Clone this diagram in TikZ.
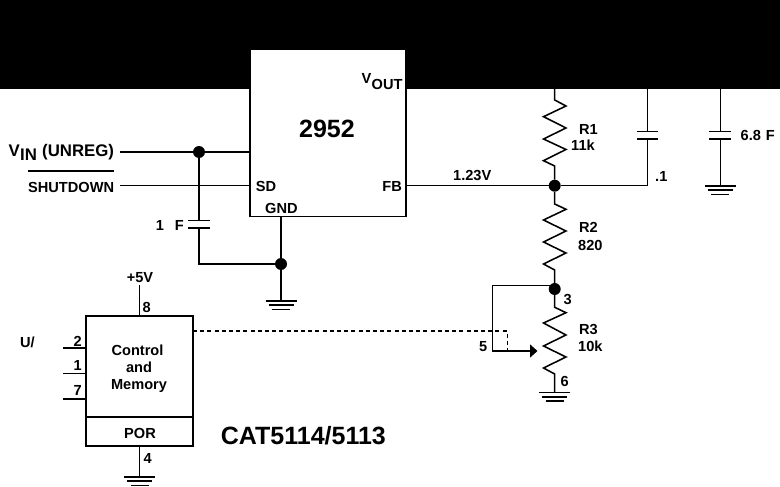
\documentclass[tikz,border=0pt]{standalone}
\usepackage{fontspec}
\setmainfont{Liberation Sans}
\usetikzlibrary{arrows.meta}
\tikzset{
  wire/.style={line width=1.55pt,line join=miter},
  dashwire/.style={line width=1.4pt,dash pattern=on 4pt off 3.2pt},
  dotnode/.style={circle,fill=black,inner sep=0pt,minimum size=12pt},
  lab/.style={inner sep=0pt,font=\fontsize{14.6}{16}\bfseries\selectfont},
  biglab/.style={inner sep=0pt,font=\fontsize{25}{28}\bfseries\selectfont},
  vinlab/.style={inner sep=0pt,font=\fontsize{16.8}{18}\bfseries\selectfont},
  boxnode/.style={draw,line width=1.55pt,fill=white,inner sep=0pt,outer sep=0pt,anchor=north west},
  pics/gndsym/.style={code={
    \draw[wire] (-15.5,0) -- (15.5,0);
    \draw[wire] (-12.5,4.2) -- (12.5,4.2);
    \draw[wire] (-9,8.4) -- (9,8.4);
  }}
}
\begin{document}
\begin{tikzpicture}[x=1pt,y=-1pt]
\useasboundingbox (0,0) rectangle (780,487);
\fill[black] (0,0) rectangle (780,89);

% main regulator
\node[boxnode,minimum width=156pt,minimum height=167pt] (reg) at (250,49.5) {};
\node[biglab,anchor=base] (regname) at (327,137.7) {2952};
\node[lab,anchor=base west] (sd) at (255.7,191.7) {SD};
\node[lab,anchor=base east] (fb) at (402,191.7) {FB};
\node[lab,anchor=base west] (gnd) at (265,213.3) {GND};
\node[lab,anchor=base east] (voutb) at (402.7,89) {OUT};
\node[lab,anchor=base east] (vouta) at (voutb.base west |- 0,84) {V};

% input wires
\coordinate (vinL) at (120,152);
\coordinate (sdL) at (120,185.7);
\coordinate (vinR) at (250,152);
\coordinate (sdR) at (250,185.7);
\node[dotnode] (d1) at (199,152) {};
\draw[wire] (vinL) -- (d1) -- (vinR);
\draw[wire] (sdL) -- (sdR);
\node[vinlab,anchor=base east] (unreg) at (114.3,156.7) {(UNREG)};
\node[vinlab,anchor=base west] (vinb) at (20,160.7) {IN};
\node[vinlab,anchor=base east] (vina) at (20,156.7) {V};
\node[lab,anchor=base east] (shut) at (114.3,192) {SHUTDOWN};
\coordinate (ovL) at (28,171);
\coordinate (ovR) at (114.3,171);
\draw[wire] (ovL) -- (ovR);

% 1 uF cap and GND
\coordinate (c1a) at (199,220.7);
\coordinate (c1b) at (199,228);
\coordinate (c1c) at (199,264);
\node[dotnode] (d2) at (281,264) {};
\coordinate (regb) at (281,216.5);
\coordinate (g1) at (281,301);
\draw[wire] (d1) -- (c1a);
\draw[wire] (188,220.7) -- (210,220.7);
\draw[wire] (188,228) -- (210,228);
\draw[wire] (c1b) -- (c1c) -- (d2);
\draw[wire] (regb) -- (d2) -- (g1);
\pic at (g1) {gndsym};
\node[lab,anchor=base east] (c1lab) at (184,230.7) {1\hspace{11pt}F};

% output network
\node[dotnode] (d3) at (554.7,185.7) {};
\coordinate (fbR) at (406,185.7);
\coordinate (c2bot) at (647.3,185.7);
\draw[wire] (fbR) -- (d3) -- (c2bot);
\node[lab,anchor=base west] (v123) at (453,180) {1.23V};

% R1
\coordinate (r1t) at (554.7,89);
\draw[wire] (r1t) -- (554.7,100) -- (566,106) -- (543.5,116.7) -- (566,128) -- (543.5,139) -- (566,149.5) -- (543.5,160.7) -- (554.7,166) -- (d3);
\node[lab,anchor=base west] (r1a) at (579,135) {R1};
\node[lab,anchor=base west] (r1b) at (571,150) {11k};

% R2
\node[dotnode] (d4) at (554.7,289) {};
\draw[wire] (d3) -- (554.7,204) -- (566,209.3) -- (543.5,220) -- (566,231) -- (543.5,242) -- (566,253) -- (543.5,264) -- (554.7,270) -- (d4);
\node[lab,anchor=base west] (r2a) at (579,232.7) {R2};
\node[lab,anchor=base west] (r2b) at (578,250) {820};

% R3
\coordinate (g3) at (554.7,392.7);
\draw[wire] (d4) -- (554.7,307.3) -- (566,312.7) -- (543.5,323) -- (566,335) -- (543.5,346) -- (566,357) -- (543.5,368) -- (554.7,374) -- (g3);
\pic at (g3) {gndsym};
\node[lab,anchor=base west] (r3a) at (579,334) {R3};
\node[lab,anchor=base west] (r3b) at (578,351) {10k};
\node[lab,anchor=base west] (p3) at (563.5,304) {3};
\node[lab,anchor=base west] (p6) at (560.5,386.7) {6};
\node[lab,anchor=base west] (p5) at (479,351.3) {5};

% wiper
\coordinate (wt) at (492.3,285.7);
\coordinate (wb) at (492.3,351);
\coordinate (wtip) at (537.5,351);
\coordinate (d4l) at (554.7,285.7);
\draw[wire] (d4l) -- (wt) -- (wb);
\draw[wire,-{Triangle[length=7.5pt,width=13pt]}] (wb) -- (wtip);

% caps on the right
\coordinate (c2t) at (647.3,89);
\coordinate (c2a) at (647.3,131.3);
\coordinate (c2b) at (647.3,139);
\draw[wire] (c2t) -- (c2a);
\draw[wire] (636.7,131.3) -- (658,131.3);
\draw[wire] (636.7,139) -- (658,139);
\draw[wire] (c2b) -- (c2bot);
\node[lab,anchor=base west] (c2lab) at (655,181) {.1};

\coordinate (c3t) at (720.3,89);
\coordinate (c3a) at (720.3,131.3);
\coordinate (c3b) at (720.3,139);
\coordinate (g2) at (720.3,186);
\draw[wire] (c3t) -- (c3a);
\draw[wire] (709,131.3) -- (731,131.3);
\draw[wire] (709,139) -- (731,139);
\draw[wire] (c3b) -- (g2);
\pic at (g2) {gndsym};
\node[lab,anchor=base west] (c3lab) at (740.5,140) {6.8\hspace{5pt}F};

% control IC
\node[boxnode,minimum width=107pt,minimum height=130pt] (ic) at (86,316) {};
\coordinate (divL) at (86,417);
\coordinate (divR) at (193,417);
\draw[wire] (divL) -- (divR);
\node[lab,anchor=base] (ctl1) at (137.5,355.7) {Control};
\node[lab,anchor=base] (ctl2) at (139,372) {and};
\node[lab,anchor=base] (ctl3) at (139,389.3) {Memory};
\node[lab,anchor=base] (por) at (140,438.3) {POR};

\coordinate (vcc) at (139.5,285);
\coordinate (vccb) at (139.5,316);
\draw[wire] (vcc) -- (vccb);
\node[lab,anchor=base] (v5) at (140,282.3) {+5V};
\node[lab,anchor=base west] (p8) at (142.3,312) {8};
\coordinate (ict) at (139.5,446);
\coordinate (g4) at (139.5,477);
\draw[wire] (ict) -- (g4);
\pic at (g4) {gndsym};
\node[lab,anchor=base west] (p4) at (143.3,463.3) {4};

\coordinate (p2l) at (63,348);
\coordinate (p2r) at (86,348);
\coordinate (p1l) at (63,373.7);
\coordinate (p1r) at (86,373.7);
\coordinate (p7l) at (63,399);
\coordinate (p7r) at (86,399);
\draw[wire] (p2l) -- (p2r);
\draw[wire] (p1l) -- (p1r);
\draw[wire] (p7l) -- (p7r);
\node[lab,anchor=base west] (l2) at (73.5,346) {2};
\node[lab,anchor=base west] (l1) at (73.5,370.7) {1};
\node[lab,anchor=base west] (l7) at (73.5,395) {7};
\node[lab,anchor=base west] (uslash) at (20,347) {U/};
\node[biglab,anchor=base west] (cat) at (220.7,444.3) {CAT5114/5113};

% dashed link
\coordinate (dashL) at (193,331);
\coordinate (dashC) at (507.3,331);
\coordinate (dashB) at (507.3,351);
\draw[dashwire] (dashL) -- (dashC) -- (dashB);
\end{tikzpicture}
\end{document}
